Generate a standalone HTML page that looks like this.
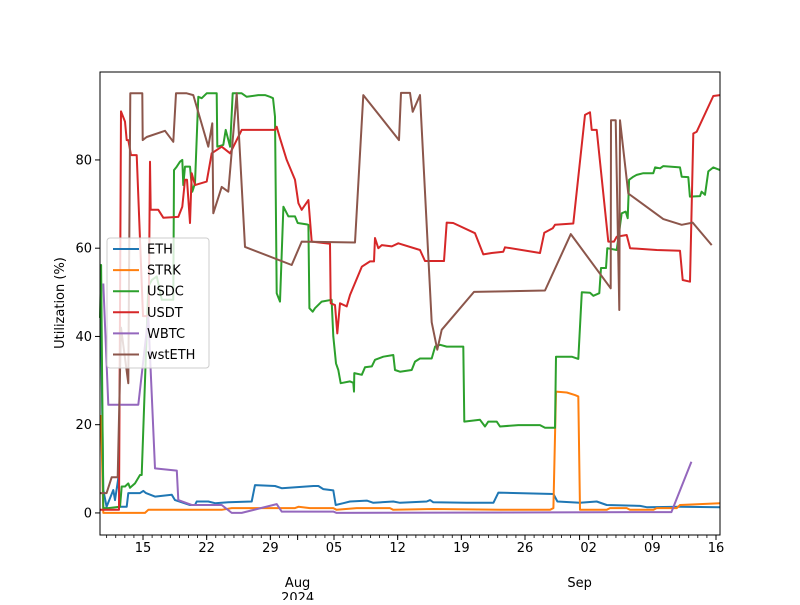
<!DOCTYPE html>
<html><head><meta charset="utf-8"><style>
body{margin:0;background:#fff}
svg text{font-family:"DejaVu Sans","Liberation Sans",sans-serif;font-size:13px;fill:#000}
</style></head><body>
<svg id="chart" width="800" height="600" viewBox="0 0 800 600" xmlns="http://www.w3.org/2000/svg">
<rect x="0" y="0" width="800" height="600" fill="#fff"/>
<g id="series"></g>
<rect x="100" y="72" width="620" height="463" fill="none" stroke="#000" stroke-width="1"/>
<g id="axes"></g>
<text transform="translate(64,303) rotate(-90)" text-anchor="middle">Utilization (%)</text>
<g id="legend"></g>
</svg>
<script>
// x data: day index, days since Jul 1 2024 (Aug 1 = 32, Sep 1 = 63)
const yTicks = [0, 20, 40, 60, 80];
const dayTickValues = [15, 22, 29, 36, 43, 50, 57, 64, 71, 78];
const dayTickLabels = ["15", "22", "29", "05", "12", "19", "26", "02", "09", "16"];
const monthTickValues = [32, 63];
const monthLabels = ["Aug\n2024", "Sep"];
const seriesNames = ["ETH", "STRK", "USDC", "USDT", "WBTC", "wstETH"];
const seriesColors = ["#1f77b4", "#ff7f0e", "#2ca02c", "#d62728", "#9467bd", "#8c564b"];

const ethDays = [10.38,10.63,11.0,11.73,11.92,12.28,12.47,13.21,13.38,14.67,15.03,15.33,16.32,18.16,18.52,20.17,20.72,20.9,22.18,22.92,24.38,26.95,27.31,29.51,30.25,33.73,34.28,34.82,35.92,36.19,37.02,37.76,39.6,40.32,42.52,43.26,46.19,46.56,46.92,50.59,53.52,54.07,60.12,60.56,63.05,64.88,65.98,69.65,70.38,74.04,78.44];
const ethVals = [44.2,5.2,1.4,5.2,2.9,7.9,1.4,1.4,4.5,4.5,5.0,4.5,3.7,4.1,2.9,1.8,1.8,2.6,2.6,2.2,2.4,2.6,6.3,6.1,5.6,6.1,6.1,5.4,5.1,1.8,2.2,2.6,2.8,2.3,2.6,2.3,2.6,2.9,2.4,2.3,2.3,4.6,4.3,2.6,2.3,2.6,1.8,1.6,1.3,1.4,1.3];

const strkDays = [10.38,10.63,15.22,15.58,23.65,24.75,31.71,32.08,33.36,35.92,36.29,38.49,42.15,42.52,46.92,54.25,59.75,60.12,60.41,61.59,62.5,62.86,63.05,65.98,66.34,68.18,68.55,71.11,71.48,73.68,74.04,78.44];
const strkVals = [22.2,0,0,0.7,0.7,1.1,1.1,1.4,1.1,1.1,0.7,1.1,1.1,0.7,0.9,0.7,0.7,1.1,27.5,27.3,26.7,26.4,0.7,0.7,1.1,1.1,0.7,0.7,1.1,1.1,1.8,2.2];

const usdcDays = [10.27,10.39,10.63,11.18,12.47,12.66,13.02,13.38,13.57,14.12,14.67,14.86,15.58,15.96,16.51,17.06,18.33,18.41,18.71,19.07,19.32,19.43,19.62,20.17,20.42,20.72,21.08,21.45,22.0,23.1,23.17,23.83,24.09,24.57,24.86,25.85,26.4,27.68,28.41,28.96,29.29,29.51,29.7,30.06,30.43,30.98,31.71,32.01,33.0,33.18,33.29,33.66,33.91,34.65,35.74,35.92,36.22,36.47,36.74,37.76,38.12,38.2,38.23,39.05,39.41,40.15,40.51,41.42,42.52,42.71,43.26,44.54,44.91,45.46,46.74,47.11,47.66,48.39,50.22,50.33,52.05,52.6,52.96,53.89,54.25,56.26,58.65,59.2,60.3,60.41,62.14,62.86,63.24,64.15,64.51,65.17,65.36,65.91,66.05,67.08,67.63,68.07,68.29,68.44,68.91,69.28,70.01,71.11,71.3,71.85,72.21,74.04,74.23,74.95,75.13,76.24,76.42,76.79,77.15,77.7,78.44];
const usdcVals = [44.2,56.2,1.1,1.1,1.4,6,6,6.7,5.7,6.7,8.6,8.6,51.3,52.8,53.6,48.3,48.3,77.7,78.5,79.6,80,74.3,78.5,78.5,72.8,74.7,94.3,94,95.1,95.1,83,83.4,86.8,83,95.1,95.1,94.3,94.7,94.7,94.3,94,89.8,49.8,47.9,69.4,67.2,67.2,65.7,65.4,65.3,46.4,45.6,46.4,47.9,48.3,40,33.9,32.4,29.4,29.8,29.5,27.5,31.7,31.3,33,33.2,34.7,35.4,35.8,32.4,32,32.4,34.3,35,35,37.7,38.1,37.7,37.7,20.7,21.1,19.6,20.7,20.7,19.6,19.9,19.9,19.3,19.3,35.4,35.4,34.9,50,49.9,49.2,49.8,55.5,55.5,60,59.6,67.9,68.3,66.8,75.5,76.2,76.6,77,77,78.3,78.1,78.6,78.3,76.2,76.1,71.7,71.8,72.8,72.1,77.4,78.3,77.7];

const usdtDays = [10.27,12.36,12.58,13.02,13.21,13.38,13.68,14.31,15.0,15.63,15.77,15.85,16.68,17.23,18.88,19.32,19.62,19.84,20.17,20.35,20.72,22.0,22.55,23.65,24.57,25.85,29.51,29.7,30.06,30.8,31.71,32.08,32.45,33.18,33.55,35.56,35.64,36.11,36.36,36.66,37.4,37.76,39.05,39.96,40.4,40.51,40.87,41.25,42.35,43.07,45.46,46.0,48.09,48.39,49.11,51.5,52.41,53.34,54.61,54.8,58.65,59.12,60.05,60.3,62.31,63.6,64.15,64.33,64.88,66.16,66.78,67.08,68.18,68.55,71.48,74.04,74.34,75.14,75.5,75.88,77.7,78.44];
const usdtVals = [0.7,0.7,91,88.7,84.5,84.5,81.1,81.1,44.6,44.6,79.6,68.7,68.7,66.9,67.1,69.4,75.5,75.5,65.7,77,74.3,75.1,81.5,83,81.5,86.8,86.8,87.5,84.9,80,75.5,70.2,68.7,70.9,61.5,61,47.5,47.1,40.7,47.5,46.8,49.4,55.8,57,57,62.3,60,60.7,60.4,61.1,59.6,57.1,57.1,65.8,65.7,63.4,58.6,58.9,59.2,60.2,58.9,63.5,64.5,65.3,65.6,90.2,90.8,86.8,86.8,61.5,61.5,62.6,63,60,59.6,59.4,52.8,52.4,86,86.4,94.5,94.7];

const wbtcDays = [10.63,11.18,14.48,15.58,16.32,18.71,18.88,20.35,23.65,24.75,25.85,29.7,30.25,35.92,36.29,73.1,75.3];
const wbtcVals = [52,24.5,24.5,44.5,10.1,9.6,2.9,1.8,1.8,0,0,2.0,0.3,0.3,0,0.2,11.6];

const wstDays = [10.27,11.0,11.56,12.22,12.58,13.38,13.6,14.92,14.97,15.41,17.42,18.33,18.63,19.8,20.53,22.18,22.62,22.73,23.65,24.38,25.3,26.21,31.35,32.45,38.31,39.22,43.15,43.37,44.36,44.65,45.46,46.74,47.36,47.84,51.39,59.2,62.03,66.42,66.46,66.97,67.37,67.45,68.36,72.21,74.23,75.44,77.53];
const wstVals = [4.5,4.5,8.1,8.1,42.0,29.4,95.1,95.1,84.5,85.2,86.6,84.1,95.1,95.1,94.7,83.0,88.3,67.9,73.9,72.8,95.1,60.3,56.2,61.5,61.3,94.7,84.5,95.2,95.2,90.9,94.7,43.2,37.0,41.5,50.1,50.4,63.2,50.9,89.0,89.0,46.0,89.0,72.4,66.6,65.3,65.8,60.7];

const seriesDays = [ethDays, strkDays, usdcDays, usdtDays, wbtcDays, wstDays];
const seriesVals = [ethVals, strkVals, usdcVals, usdtVals, wbtcVals, wstVals];

const NS = "http://www.w3.org/2000/svg";
const X0 = 100, X1 = 720, Y0 = 72, Y1 = 535;
const dMin = 10.27, dMax = 78.44, vMin = -5.0, vMax = 99.93;
function xs(d){ return X0 + (d - dMin) / (dMax - dMin) * (X1 - X0); }
function ys(v){ return Y1 - (v - vMin) / (vMax - vMin) * (Y1 - Y0); }
function mk(tag, attrs, parent){ const e = document.createElementNS(NS, tag); for (const k in attrs) e.setAttribute(k, attrs[k]); parent.appendChild(e); return e; }

const sg = document.getElementById("series");
seriesNames.forEach((name, i) => {
  const pts = seriesDays[i].map((d, j) => xs(d).toFixed(1) + "," + ys(seriesVals[i][j]).toFixed(1)).join(" ");
  const pl = mk("polyline", {points: pts, fill: "none", stroke: seriesColors[i], "stroke-width": 2, "stroke-linejoin": "round"}, sg);
  
  
});

const ax = document.getElementById("axes");
yTicks.forEach(v => {
  const y = ys(v);
  const t = mk("line", {x1: X0 - 5, x2: X0, y1: y, y2: y, stroke: "#000"}, ax);
  
  
  const l = mk("text", {x: X0 - 8, y: y + 4.5, "text-anchor": "end"}, ax);
  l.textContent = v;
  
  
});
for (let d = 11; d <= 78; d++) {
  const x = xs(d);
  const t = mk("line", {x1: x, x2: x, y1: Y1, y2: Y1 + 3, stroke: "#000", "stroke-width": 0.8}, ax);
  
  
}
dayTickValues.forEach((d, i) => {
  const x = xs(d);
  const t = mk("line", {x1: x, x2: x, y1: Y1, y2: Y1 + 5, stroke: "#000"}, ax);
  
  
  const l = mk("text", {x: x, y: Y1 + 17, "text-anchor": "middle"}, ax);
  l.textContent = dayTickLabels[i];
  
  
});
monthTickValues.forEach((d, i) => {
  const x = xs(d);
  const t = mk("line", {x1: x, x2: x, y1: Y1, y2: Y1 + 5, stroke: "#000"}, ax);
  
  
  monthLabels[i].split("\n").forEach((s, k) => {
    const l = mk("text", {x: x, y: Y1 + 52 + k * 15, "text-anchor": "middle"}, ax);
    l.textContent = s;
    
    
  });
});

const lg = document.getElementById("legend");
const box = mk("rect", {x: 107, y: 238, width: 102, height: 130, rx: 3, fill: "#fff", "fill-opacity": 0.8, stroke: "#ccc"}, lg);


seriesNames.forEach((name, i) => {
  const y = 249 + i * 21.1;
  const g = mk("g", {}, lg);
  
  
  mk("line", {x1: 113, x2: 139, y1: y, y2: y, stroke: seriesColors[i], "stroke-width": 2}, g);
  const t = mk("text", {x: 147, y: y + 4.5}, g);
  t.textContent = name;
});
</script>
</body></html>
